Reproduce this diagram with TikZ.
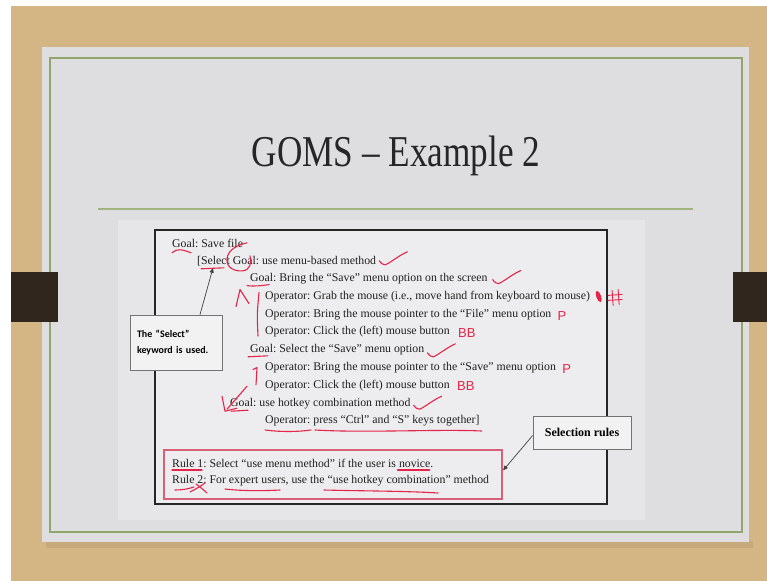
\documentclass[tikz,border=0pt]{standalone}
\usepackage{fontspec}
\setmainfont{Liberation Serif}
\newfontfamily\notefont{Carlito}
\newfontfamily\handfont{Liberation Sans}
\usetikzlibrary{calc}
\usetikzlibrary{positioning}
\usetikzlibrary{arrows.meta}
\frenchspacing

\definecolor{deskTan}{RGB}{212,181,132}
\definecolor{tabBrown}{RGB}{48,38,30}
\definecolor{slideGray}{RGB}{222,222,225}
\definecolor{panelGray}{RGB}{230,230,232}
\definecolor{frameGreen}{RGB}{146,166,108}
\definecolor{inkRed}{RGB}{228,36,72}
\definecolor{ruleRed}{RGB}{216,96,118}

\tikzset{
  txt/.style={anchor=west, inner sep=0pt, text=black!88, font=\fontsize{11.8}{14}\selectfont},
  callout/.style={draw=black!55, fill=panelGray!50!white, line width=0.7pt, inner sep=0pt, align=left},
  pointer/.style={draw=black!75, line width=0.7pt, -{Triangle[length=5pt,width=4pt]}},
  ink/.style={draw=inkRed, line width=1.1pt, line cap=round, line join=round},
  inkletter/.style={text=inkRed, anchor=west, inner sep=0pt, font=\handfont\fontsize{13}{13}\selectfont},
}

% red tick drawn after a line of text
\newcommand{\inkcheck}[1]{%
  \begin{scope}[shift={(#1)}]
    \draw[ink] (0,0) .. controls (2,3) and (4,4) .. (6,4) .. controls (11,2) and (19,-5) .. (28,-9);
  \end{scope}}

\begin{document}
\begin{tikzpicture}[x=1pt, y=-1pt]

\useasboundingbox (0,0) rectangle (767,581);

% desk, slide and frame
\fill[white] (0,0) rectangle (767,581);
\fill[deskTan] (11,6) rectangle (767,581);
\fill[black, opacity=0.06] (46,541) rectangle (753,548);
\fill[slideGray] (42,47) rectangle (749,542);
\fill[panelGray] (118,220) rectangle (645,520);
\draw[frameGreen, line width=1.4pt] (50,58) rectangle (742,532);
\fill[tabBrown] (11,272) rectangle (58,322);
\fill[tabBrown] (733,272) rectangle (767,322);

\node[text=black!85, inner sep=0pt] (title) at (396,156)
    {\fontsize{44}{44}\selectfont\scalebox{0.8}[1]{GOMS – Example 2}};
\draw[frameGreen!85!white, line width=2.4pt] (98,209) -- (693,209);

% method box
\node[draw=black!85, fill=panelGray!70!white, line width=1.8pt, minimum width=452pt, minimum height=274pt] (frame) at (381,367) {};

\def\dy{17.8}
\node[txt] (g0)  at (172,243)        {Goal: Save file};
\node[txt] (sel) at (197,243+\dy)    {[Select Goal: use menu-based method};
\node[txt] (gb)  at (250,243+2*\dy)  {Goal: Bring the “Save” menu option on the screen};
\node[txt] (op1) at (265,243+3*\dy)  {Operator: Grab the mouse (i.e., move hand from keyboard to mouse)};
\node[txt] (op2) at (265,243+4*\dy)  {Operator: Bring the mouse pointer to the “File” menu option};
\node[txt] (op3) at (265,243+5*\dy)  {Operator: Click the (left) mouse button};
\node[txt] (gs)  at (250,243+6*\dy)  {Goal: Select the “Save” menu option};
\node[txt] (op4) at (265,243+7*\dy)  {Operator: Bring the mouse pointer to the “Save” menu option};
\node[txt] (op5) at (265,243+8*\dy)  {Operator: Click the (left) mouse button};
\node[txt] (gh)  at (230,243+9*\dy)  {Goal: use hotkey combination method};
\node[txt] (op6) at (265,243+10*\dy) {Operator: press “Ctrl” and “S” keys together]};

% selection rules
\node[draw=ruleRed, line width=2pt, minimum width=338pt, minimum height=49pt] (rules) at (333,474.5) {};
\node[txt] (r1) at (172,463) {Rule 1: Select “use menu method” if the user is novice.};
\node[txt] (r2) at (172,481) {Rule 2: For expert users, use the “use hotkey combination” method};

% callouts
\node[callout, text width=78pt, minimum height=55pt, inner xsep=7pt,
      font=\notefont\bfseries\fontsize{10}{16}\selectfont] (selnote) at (176,342.5)
    {The “Select”\\keyword is used.};
\node[callout, minimum width=98pt, minimum height=33pt,
      font=\bfseries\fontsize{12}{14}\selectfont] (rulenote) at (582,432.5) {Selection rules};

\coordinate (selword) at ($(sel.west)+(16,7)$);
\draw[pointer] ([xshift=24pt]selnote.north) -- (selword);
\draw[pointer] ([yshift=-3pt]rulenote.west) -- ([yshift=4pt]rules.east);

% red pen marks
\begin{scope}[shift={(sel.west)}]
  \draw[ink] (-25,-8) .. controls (-20,-13) and (-14,-11) .. (-6,-8);
  \draw[ink] (4,8) -- (27,7);
\end{scope}
\begin{scope}[shift={($(sel.west)+(42,0)$)}]
  \draw[ink] (8,-18) .. controls (0,-16) and (-11,-12) .. (-12,-2)
             .. controls (-13,7) and (-4,11) .. (4,10) .. controls (11,9) and (13,2) .. (11,-5);
\end{scope}
\begin{scope}[shift={(gb.west)}]
  \draw[ink] (-3,7) .. controls (5,8) and (12,7) .. (19,6);
  \draw[ink] (-14,28) -- (-10,11) -- (-1,25);
\end{scope}
\draw[ink] ($(op1.west)+(-6,-4)$) .. controls ($(op2.west)+(-8,0)$) .. ($(op3.west)+(-7,4)$);
\draw[ink] ($(gs.west)+(-2,7)$) -- +(20,-1);
\begin{scope}[shift={(op4.west)}]
  \draw[ink] (-12,2) -- (-8,0) -- (-9,17);
\end{scope}
\begin{scope}[shift={(gh.west)}]
  \draw[ink] (17,-17) -- (-3,6);
  \draw[ink] (-8,-7) -- (-5,8) -- (7,5);
  \draw[ink] (1,8) -- (18,7);
\end{scope}
\begin{scope}[shift={(op6.west)}]
  \draw[ink] (0,9) .. controls (15,11) and (32,11) .. (46,9);
\end{scope}
\draw[ink] ($(op6.west)+(50,9)$) .. controls ($(op6.west)+(100,12)$) and ($(op6.east)+(-40,8)$) .. ($(op6.east)+(2,10)$);

\inkcheck{$(sel.east)+(3,0)$}
\inkcheck{$(gb.east)+(5,1)$}
\inkcheck{$(gs.east)+(3,3)$}
\inkcheck{$(gh.east)+(3,2)$}

\fill[inkRed, rotate around={20:($(op1.east)+(8,3)$)}] ($(op1.east)+(8,3)$) ellipse[x radius=2.3, y radius=6];
\begin{scope}[shift={($(op1.east)+(25,1)$)}]
  \draw[ink, line width=0.9pt] (-3,-7) -- (-2,8);
  \draw[ink, line width=0.9pt] (3,-8) -- (4,7);
  \draw[ink, line width=0.9pt] (-7,-2) -- (7,-3);
  \draw[ink, line width=0.9pt] (-7,3) -- (7,2);
\end{scope}
\node[inkletter] (p1)  at ($(op2.east)+(6,2)$) {P};
\node[inkletter] (bb1) at ($(op3.east)+(8,1)$) {BB};
\node[inkletter] (p2)  at ($(op4.east)+(6,1)$) {P};
\node[inkletter] (bb2) at ($(op5.east)+(7,1)$) {BB};

\begin{scope}[shift={(r1.west)}]
  \draw[ink] (0,7) -- (30,7);
\end{scope}
\draw[ink] ($(r1.east)+(-36,7)$) -- ($(r1.east)+(-4,7)$);
\begin{scope}[shift={(r2.west)}]
  \draw[ink] (3,9) .. controls (10,9) and (16,8) .. (22,6);
  \draw[ink] (18,11) .. controls (24,8) and (29,5) .. (33,2);
  \draw[ink] (24,3) .. controls (28,6) and (32,9) .. (35,12);
  \draw[ink] (53,8) .. controls (70,10) and (90,10) .. (108,9);
  \draw[ink] (152,9) .. controls (190,10) and (235,10) .. (266,12);
\end{scope}

\end{tikzpicture}
\end{document}
